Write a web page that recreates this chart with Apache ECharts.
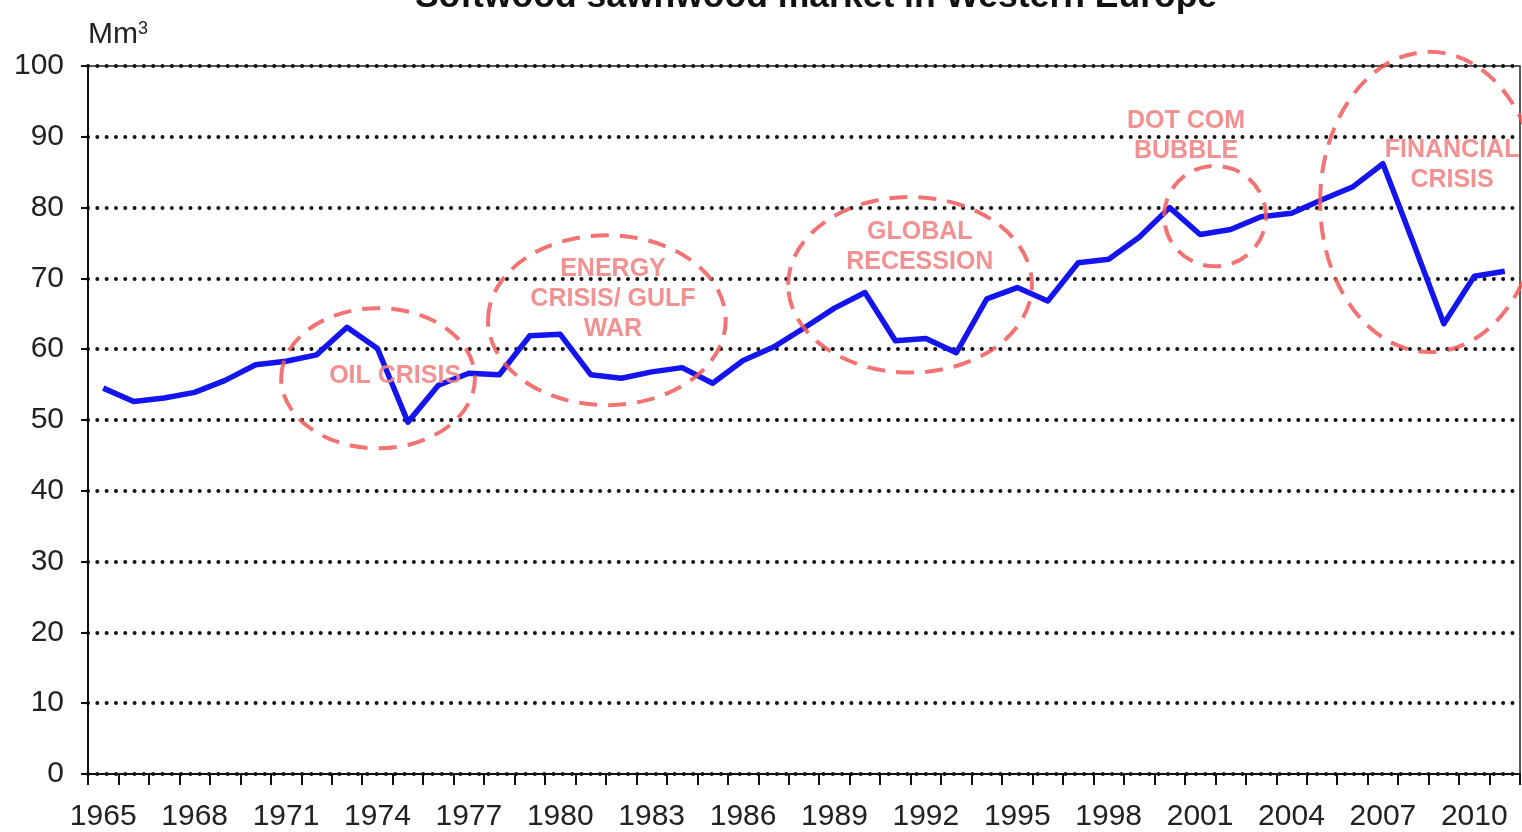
<!DOCTYPE html>
<html>
<head>
<meta charset="utf-8">
<title>Softwood sawnwood market in Western Europe</title>
<script src="https://cdn.jsdelivr.net/npm/echarts@6/dist/echarts.min.js"></script>
<style>
  html, body { margin: 0; padding: 0; background: #fff; }
  #chart { width: 1522px; height: 832px; }
</style>
</head>
<body>
<div id="chart"></div>
<script>
// 年份（类目）
const years = [];
for (let y = 1965; y <= 2011; y++) years.push(String(y));

// Mm3
const volume = [
  54.5, 52.6, 53.1, 53.9, 55.6, 57.8, 58.3, 59.2, 63.1, 60.1,
  49.7, 54.9, 56.6, 56.4, 61.9, 62.1, 56.4, 55.9, 56.8, 57.4,
  55.2, 58.4, 60.3, 63.0, 65.8, 68.0, 61.2, 61.5, 59.5, 67.1,
  68.7, 66.8, 72.2, 72.7, 75.8, 80.0, 76.2, 76.9, 78.7, 79.2,
  81.1, 82.9, 86.2, 75.0, 63.6, 70.3, 71.0
];

// 注释：中心(年序号, 值)，半径(年, 值)
const crisisNames = ["OIL CRISIS", "ENERGY\nCRISIS/ GULF\nWAR", "GLOBAL\nRECESSION", "DOT COM\nBUBBLE", "FINANCIAL\nCRISIS"];
const ringCenters = [[9.02, 55.9], [16.53, 64.1], [26.48, 69.1], [36.49, 78.8], [43.54, 80.8]];
const ringRadii = [[3.18, 9.9], [3.9, 12.0], [4.0, 12.4], [1.67, 7.1], [3.6, 21.2]];
const labelPos = [[9.58, 56.2], [16.73, 67.1], [26.8, 74.4], [35.54, 90.1], [44.27, 86.0]];

const chart = echarts.init(document.getElementById("chart"));

const font = "Liberation Sans";

const option = {
  animation: false,
  title: {
    text: "Softwood sawnwood market in Western Europe",
    left: 816,
    textAlign: "center",
    top: -21,
    padding: 0,
    textStyle: { fontFamily: font, fontSize: 35.5, fontWeight: "bold", color: "#111" }
  },
  grid: {
    left: 88, right: 2, top: 66, bottom: 58,
    show: true, borderColor: "#222", borderWidth: 1.5
  },
  xAxis: {
    type: "category",
    data: years,
    boundaryGap: true,
    axisLine: { lineStyle: { color: "#111", width: 2 } },
    axisTick: { show: true, interval: 0, length: 11, lineStyle: { color: "#111", width: 2 } },
    axisLabel: { interval: 2, margin: 28, fontFamily: font, fontSize: 30, color: "#222" },
    splitLine: { show: false }
  },
  yAxis: {
    type: "value",
    min: 0, max: 100, interval: 10,
    name: "{m|Mm}{s|3}",
    nameLocation: "end",
    nameGap: 16,
    nameTextStyle: {
      align: "left",
      verticalAlign: "bottom",
      padding: [0, 0, 0, 0],
      rich: {
        m: { fontFamily: font, fontSize: 30, color: "#222", verticalAlign: "bottom" },
        s: { fontFamily: font, fontSize: 18, color: "#222", verticalAlign: "top" }
      }
    },
    axisLine: { show: true, lineStyle: { color: "#111", width: 2 } },
    axisTick: { show: true, length: 7, lineStyle: { color: "#111", width: 2 } },
    axisLabel: { margin: 24, fontFamily: font, fontSize: 30, color: "#222" },
    splitLine: {
      show: true,
      lineStyle: { color: "#111", width: 4, type: [0.01, 9.3], cap: "round" }
    }
  },
  series: [
    {
      name: "Softwood sawnwood",
      type: "line",
      data: volume,
      showSymbol: false,
      symbol: "none",
      z: 3,
      lineStyle: { color: "#1414ee", width: 5.5, join: "round" }
    }
  ]
};

chart.setOption(option);

// 把注释从数据坐标转换成像素
function px(ix, v) {
  const a = chart.convertToPixel({ gridIndex: 0 }, [0, 0]);
  const b = chart.convertToPixel({ gridIndex: 0 }, [1, 10]);
  return [a[0] + ix * (b[0] - a[0]), a[1] + v * (b[1] - a[1]) / 10];
}

const graphics = [];
ringCenters.forEach((c, i) => {
  const p = px(c[0], c[1]);
  const q = px(c[0] + ringRadii[i][0], c[1] + ringRadii[i][1]);
  graphics.push({
    type: "ellipse",
    z: 10,
    silent: true,
    shape: { cx: p[0], cy: p[1], rx: Math.abs(q[0] - p[0]), ry: Math.abs(q[1] - p[1]) },
    style: { fill: null, stroke: "#f05a5a", lineWidth: 4, lineDash: [18, 11], opacity: 0.85 }
  });
});
labelPos.forEach((l, i) => {
  const p = px(l[0], l[1]);
  graphics.push({
    type: "text",
    z: 11,
    silent: true,
    x: p[0],
    y: p[1],
    style: {
      text: crisisNames[i],
      align: "center",
      verticalAlign: "middle",
      fontFamily: font,
      fontSize: 25,
      fontWeight: "bold",
      lineHeight: 30,
      fill: "#f08585",
      opacity: 0.9
    }
  });
});

chart.setOption({ graphic: graphics });
</script>
</body>
</html>
